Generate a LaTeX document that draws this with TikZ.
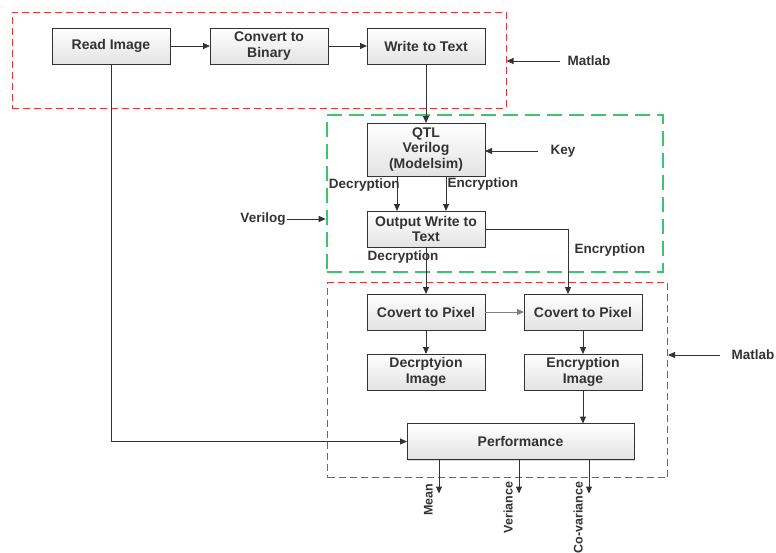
\documentclass[tikz,border=0pt]{standalone}
\usepackage{fontspec}
\setmainfont{Liberation Sans}
\usepackage{xcolor}
\usetikzlibrary{arrows.meta,positioning,shadows}
\definecolor{inkgrey}{HTML}{333333}
\definecolor{framered}{HTML}{f03030}
\definecolor{framegreen}{HTML}{3cc46e}

\begin{document}
\begin{tikzpicture}[x=1pt, y=-1pt,
  font=\bfseries\fontsize{14}{15.5}\selectfont, text=inkgrey,
  box/.style={draw=inkgrey, line width=1pt, minimum width=118pt, minimum height=36pt,
              inner sep=0pt, outer sep=0pt, align=center, top color=white, bottom color=black!11,
              drop shadow={opacity=0.3, shadow xshift=1.2pt, shadow yshift=-1.2pt}},
  redframe/.style={draw=framered, line width=1pt, dash pattern=on 7pt off 4pt, inner sep=0pt},
  greenframe/.style={draw=framegreen, line width=2.6pt, dash pattern=on 15pt off 7pt, inner sep=0pt},
  ar/.style={-{Triangle[length=7pt, width=6pt]}, draw=inkgrey, line width=1pt},
  lab/.style={font=\bfseries\fontsize{13.5}{15}\selectfont, inner sep=1pt},
  vlab/.style={lab, font=\bfseries\fontsize{12.5}{14}\selectfont, rotate=90, anchor=south east}]
\useasboundingbox (0,0) rectangle (776,552);
% frames
\node[redframe, minimum width=494pt, minimum height=96pt] (mtop) at (259,60) {};
\node[greenframe, minimum width=336pt, minimum height=157pt] (vlog) at (495,193.5) {};
\node[redframe, minimum width=340pt, minimum height=195pt] (mbot) at (497.5,380) {};
% matlab part
\node[box] (read) at (111,46) {Read Image};
\node[box, right=40pt of read] (bin) {Convert to\\Binary};
\node[box, right=39pt of bin] (wtt) {Write to Text};
% verilog part
\node[box, minimum height=53pt, below=59pt of wtt] (qtl) {QTL\\Verilog\\(Modelsim)};
\node[box, below=35pt of qtl] (owt) {Output Write to\\Text};
% pixels and images
\node[box, below=47pt of owt] (cp1) {Covert to Pixel};
\node[box, right=39pt of cp1] (cp2) {Covert to Pixel};
\node[box, below=24pt of cp1] (dimg) {Decrptyion\\Image};
\node[box, below=24pt of cp2] (eimg) {Encryption\\Image};
\node[box, minimum width=227pt] (perf) at (520.5,441.5) {Performance};
% side labels
\node[lab] (ml1) at (589,61) {Matlab};
\node[lab] (key) at (563,151) {Key};
\node[lab] (vl) at (263,219) {Verilog};
\node[lab] (ml2) at (753,355) {Matlab};
\draw[ar] (ml1.west) ++(-6pt,0) -- (ml1.west -| mtop.east);
\draw[ar] (key.west) ++(-11pt,0) -- (key.west -| qtl.east);
\draw[ar] (vl.east) -- (vl.east -| vlog.west);
\draw[ar] (ml2.west) ++(-10pt,0) -- (ml2.west -| mbot.east);
% flow
\draw[ar] (read) -- (bin);
\draw[ar] (bin) -- (wtt);
\draw[ar] (wtt) -- (qtl);
\draw[ar] ([xshift=-29pt]qtl.south) -- node[lab, pos=0.27, left=-4pt]{Decryption} ([xshift=-29pt]owt.north);
\draw[ar] ([xshift=20pt]qtl.south) -- node[lab, pos=0.22, right=0pt]{Encryption} ([xshift=20pt]owt.north);
\draw[ar] (owt) -- node[lab, pos=0.22, xshift=-23pt]{Decryption} (cp1);
\draw[ar] (owt.east) -| node[lab, pos=0.66, right=5pt]{Encryption} ([xshift=-15pt]cp2.north);
\draw[ar, draw=gray] (cp1) -- (cp2);
\draw[ar] (cp1) -- (dimg);
\draw[ar] (cp2) -- (eimg);
\draw[ar] (eimg) -- (eimg |- perf.north);
\draw[ar] (read) |- (perf);
% measures
\coordinate (o1) at ([xshift=-81.5pt, yshift=-34pt]perf.south);
\coordinate (o2) at ([xshift=-1.5pt, yshift=-34pt]perf.south);
\coordinate (o3) at ([xshift=68.5pt, yshift=-34pt]perf.south);
\draw[ar] (perf.south -| o1) -- (o1);
\draw[ar] (perf.south -| o2) -- (o2);
\draw[ar] (perf.south -| o3) -- (o3);
\node[vlab] (mean) at ([xshift=-5pt, yshift=11pt]o1) {Mean};
\node[vlab] (var) at ([xshift=-5pt, yshift=13pt]o2) {Veriance};
\node[vlab] (cov) at ([xshift=-5pt, yshift=13pt]o3) {Co-variance};
\end{tikzpicture}
\end{document}
